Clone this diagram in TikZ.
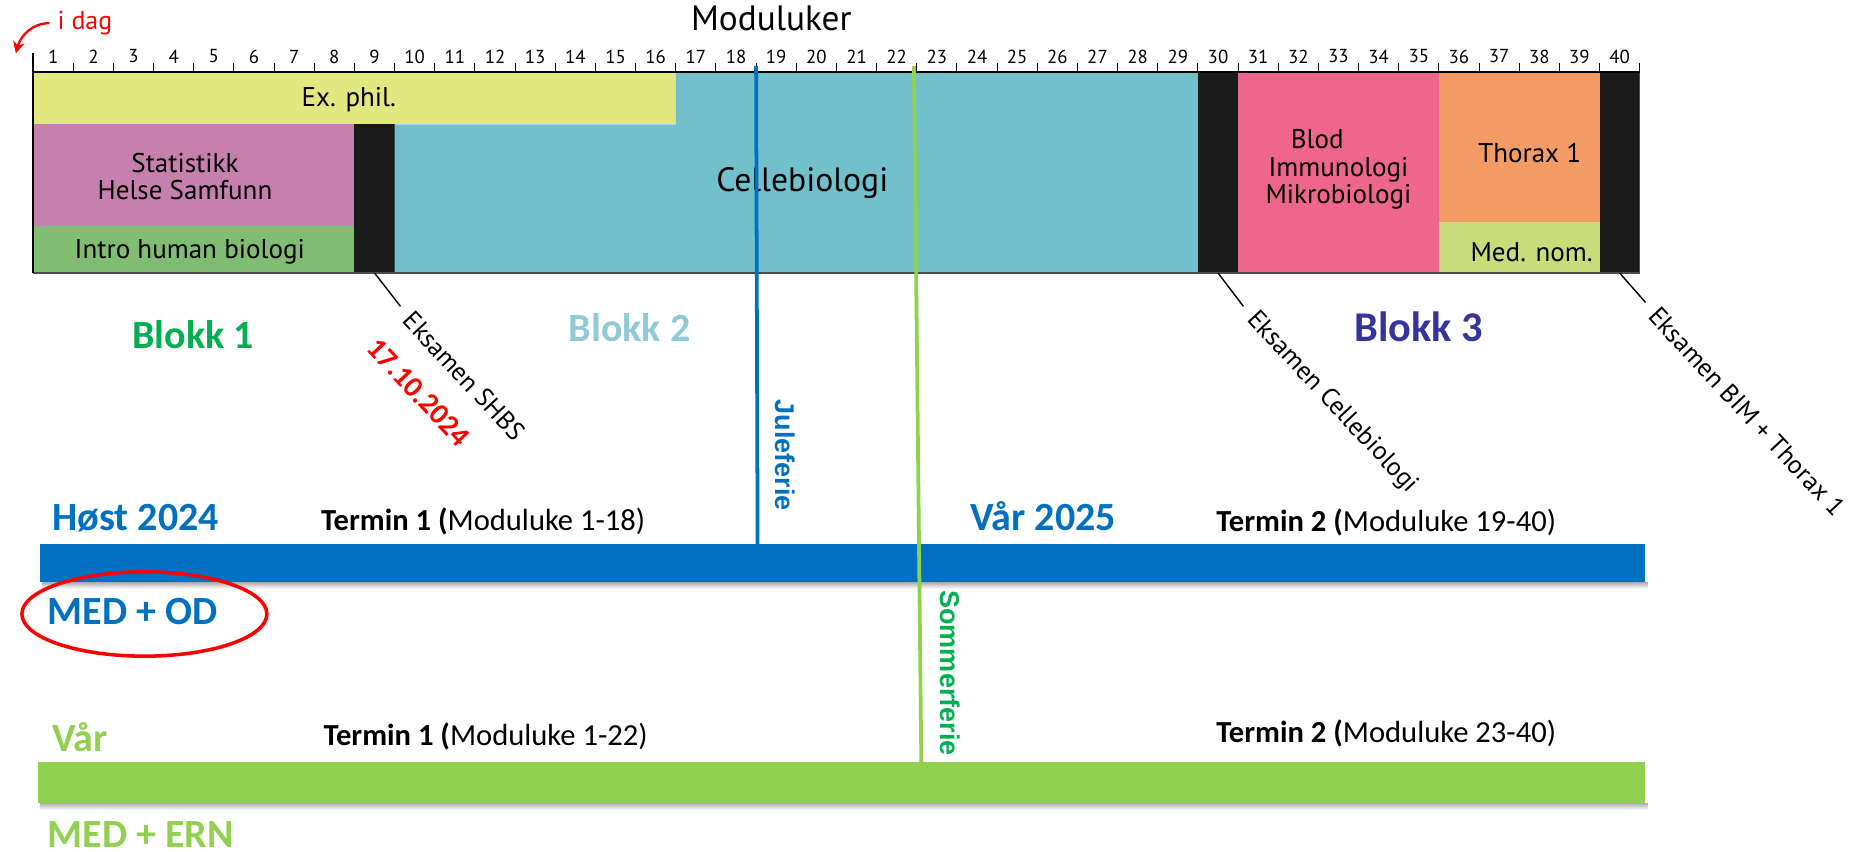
\documentclass[tikz,border=0pt]{standalone}
\usepackage{fontspec}
\setmainfont{PT Sans}
\newfontfamily\calibri{Carlito}
\newfontfamily\arial{Liberation Sans}
\usetikzlibrary{arrows.meta}

\definecolor{exphil}{HTML}{E3E77F}
\definecolor{stat}{HTML}{C680AD}
\definecolor{intro}{HTML}{80BC72}
\definecolor{celle}{HTML}{72C0CC}
\definecolor{blod}{HTML}{EF668C}
\definecolor{thorax}{HTML}{F49A64}
\definecolor{mednom}{HTML}{C9DC7A}
\definecolor{eksam}{HTML}{1A1A1A}
\definecolor{hblue}{HTML}{0070C0}
\definecolor{lgreen}{HTML}{92D050}
\definecolor{sgreen}{HTML}{00B050}
\definecolor{blokkto}{HTML}{8FCAD5}
\definecolor{blokktre}{HTML}{35349B}

\begin{document}
\begin{tikzpicture}[x=0.6cm, y=0.6cm,
    modul/.style={font=\fontsize{11.5}{11.6}\selectfont, align=center, inner sep=1pt},
    wknum/.style={font=\fontsize{8}{9}\selectfont, inner sep=0pt},
    eksamen/.style={font=\fontsize{11}{12}\selectfont, rotate=-47, inner sep=1pt},
    blokk/.style={font=\calibri\bfseries\fontsize{17}{18}\selectfont, inner sep=0pt},
    termin/.style={font=\calibri\fontsize{13}{14}\selectfont, anchor=west, inner sep=0pt},
    ferie/.style={font=\arial\bfseries\fontsize{11.5}{12}\selectfont, rotate=-90, inner sep=0pt}]
    \def\modul#1#2#3{\fill[#3] (#1) rectangle (#2);}
    % bar with a soft shadow below
    \def\termbar#1#2#3#4#5{
        \shade[top color=black!32, bottom color=white] (#1+0.05,#4) rectangle (#3+0.08,#4-0.16);
        \fill[#5] (#1,#2) rectangle (#3,#4);
    }

    \useasboundingbox (-0.825,1.797) rectangle (45.36,-19.41);

    % Moduluker (ruler)
    \node[font=\fontsize{15}{16}\selectfont] (moduluker) at (18.38,1.34) {Moduluker};
    \node[font=\fontsize{11}{12}\selectfont, text=red] (idag) at (1.29,1.22) {i dag};
    \coordinate (pil) at (-0.43,0.47);
    \draw[red, line width=1pt, -{Stealth[length=5pt,width=5pt]}] (idag.west) to[out=180, in=75] (pil);
    \foreach \w in {1,...,40}{
        \node[wknum] (w\w) at (\w-0.5,0.39) {\w};
        \draw[line width=0.4pt] (\w,0) -- (\w,0.24);
    }

    % Blokk 1
    \modul{0,0}{16,-1.3}{exphil}
    \modul{0,-1.3}{8,-3.83}{stat}
    \modul{0,-3.83}{8,-5}{intro}
    \modul{8,-1.3}{9,-5}{eksam}
    % Blokk 2
    \fill[celle] (16,0) -| (29,-5) -| (9,-1.3) -| (16,0) -- cycle;
    \modul{29,0}{30,-5}{eksam}
    % Blokk 3
    \modul{30,0}{35,-5}{blod}
    \modul{35,0}{39,-3.73}{thorax}
    \modul{35,-3.73}{39,-5}{mednom}
    \modul{39,0}{40,-5}{eksam}
    \draw[line width=0.5pt, black!70] (0,0) rectangle (40,-5);
    \draw[line width=1pt] (0,0) -- (40,0);
    \draw[line width=1pt] (0,-5) -- (0,0.47);

    \node[modul] (exphiltxt) at (7.86,-0.69) {Ex. phil.};
    \node[modul] (stattxt) at (3.78,-2.6) {Statistikk\\Helse Samfunn};
    \node[modul] (introtxt) at (3.9,-4.48) {Intro human biologi};
    \node[modul, font=\fontsize{14.3}{15}\selectfont] (celletxt) at (19.15,-2.77) {Cellebiologi};
    \node[modul] (blodtxt) at (32.5,-2.42) {\hspace*{-18pt}Blod\\Immunologi\\Mikrobiologi};
    \node[modul] (thoraxtxt) at (37.26,-2.02) {Thorax 1};
    \node[modul] (mednomtxt) at (37.31,-4.48) {Med. nom.};

    % Eksamener
    \coordinate (e9) at (8.5,-5);
    \coordinate (e30) at (29.5,-5);
    \coordinate (e40) at (39.5,-5);
    \node[eksamen] (shbs) at (10.74,-7.57) {Eksamen SHBS};
    \node[eksamen, font=\calibri\bfseries\fontsize{12.5}{13}\selectfont, text=red] (dato) at (9.6,-7.98) {17.10.2024};
    \node[eksamen] (cellebio) at (32.34,-8.23) {Eksamen Cellebiologi};
    \node[eksamen] (bimthorax) at (42.67,-8.45) {Eksamen BIM + Thorax 1};
    \draw[line width=0.6pt, shorten >=4pt] (e9) -- (shbs.west);
    \draw[line width=0.6pt, shorten >=4pt] (e30) -- (cellebio.west);
    \draw[line width=0.6pt, shorten >=4pt] (e40) -- (bimthorax.west);

    \node[blokk, text=sgreen] (blokk1) at (3.98,-6.54) {Blokk 1};
    \node[blokk, text=blokkto] (blokk2) at (14.85,-6.36) {Blokk 2};
    \node[blokk, text=blokktre, font=\calibri\bfseries\fontsize{18}{19}\selectfont] (blokk3) at (34.5,-6.33) {Blokk 3};

    % Terminer
    \termbar{0.18}{-11.75}{40.12}{-12.70}{hblue}
    \termbar{0.12}{-17.17}{40.12}{-18.2}{lgreen}
    \draw[hblue, line width=1.6pt] (18,0.15) -- (18.04,-12.58);
    \draw[lgreen, line width=1.6pt] (21.93,0.15) -- (22.12,-17.79);
    \node[ferie, text=hblue] (jul) at (18.72,-9.54) {Juleferie};
    \node[ferie, text=sgreen] (sommer) at (22.84,-14.96) {Sommerferie};

    \node[blokk, text=hblue, anchor=west] (host) at (0.47,-11.10) {Høst 2024};
    \node[termin] (t1host) at (7.16,-11.19) {\textbf{Termin 1 (}Moduluke 1-18)};
    \node[blokk, text=hblue] (var25) at (25.15,-11.05) {Vår 2025};
    \node[termin] (t2host) at (29.45,-11.22) {\textbf{Termin 2 (}Moduluke 19-40)};
    \node[blokk, text=hblue, anchor=west] (medod) at (0.35,-13.43) {MED + OD};
    \draw[red, line width=1.5pt] (2.77,-13.49) ellipse [x radius=3.05, y radius=1.05];

    \node[blokk, text=lgreen, anchor=west] (var) at (0.47,-16.55) {Vår};
    \node[termin] (t1var) at (7.22,-16.55) {\textbf{Termin 1 (}Moduluke 1-22)};
    \node[termin] (t2var) at (29.45,-16.47) {\textbf{Termin 2 (}Moduluke 23-40)};
    \node[blokk, text=lgreen, anchor=west] (medern) at (0.35,-18.98) {MED + ERN};
\end{tikzpicture}
\end{document}
